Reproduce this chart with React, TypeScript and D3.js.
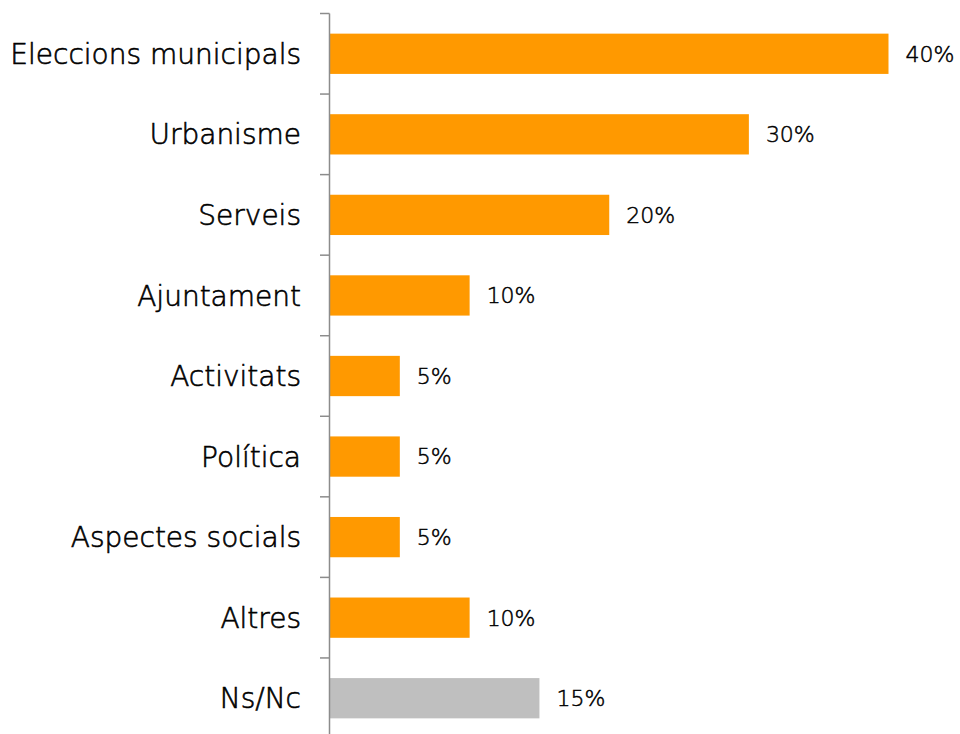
import React from "react";
import * as d3 from "d3";

const categories = [
  "Eleccions municipals",
  "Urbanisme",
  "Serveis",
  "Ajuntament",
  "Activitats",
  "Política",
  "Aspectes socials",
  "Altres",
  "Ns/Nc",
];
const values = [40, 30, 20, 10, 5, 5, 5, 10, 15];
const colors = ["#FF9900", "#FF9900", "#FF9900", "#FF9900", "#FF9900", "#FF9900", "#FF9900", "#FF9900", "#BFBFBF"];

export default function App() {
  const width = 960;
  const height = 734;
  const x0 = 330;
  const x = d3.scaleLinear().domain([0, 40]).range([x0, 888.5]);
  const y = d3.scaleBand<string>().domain(categories).range([13.5, 738.5]).paddingInner(0.5).paddingOuter(0.25);
  const band = (738.5 - 13.5) / categories.length;
  const ticks = d3.range(categories.length + 1).map((i) => 13.5 + i * band);
  const font = "'DejaVu Sans', Verdana, sans-serif";
  return (
    <svg
      width={width}
      height={height}
      style={{ position: "absolute", left: 0, top: 0 }}
    >
      <rect width={width} height={height} fill="#fff" />
      {categories.map((c, i) => (
        <rect
          key={c}
          x={x0}
          y={y(c)}
          width={x(values[i]) - x0}
          height={y.bandwidth()}
          fill={colors[i]}
        />
      ))}
      <line x1={329.5} x2={329.5} y1={13.5} y2={738.5} stroke="#8C8C8C" strokeWidth={1.5} />
      {ticks.map((t, i) => (
        <line key={i} x1={320} x2={329.5} y1={t} y2={t} stroke="#8C8C8C" strokeWidth={1.5} />
      ))}
      {categories.map((c) => (
        <text
          key={c}
          x={301}
          y={(y(c) as number) + y.bandwidth() / 2}
          dy="0.36em"
          textAnchor="end"
          fontFamily={font}
          fontSize={28}
          fontWeight={300}
          fill="#000"
          stroke="#000"
          strokeWidth={0.6}
        >
          {c}
        </text>
      ))}
      {categories.map((c, i) => (
        <text
          key={c + "v"}
          x={x(values[i]) + 17}
          y={(y(c) as number) + y.bandwidth() / 2}
          dy="0.36em"
          fontFamily={font}
          fontSize={22}
          fontWeight={300}
          fill="#000"
          stroke="#000"
          strokeWidth={0.5}
        >
          {values[i] + "%"}
        </text>
      ))}
    </svg>
  );
}
